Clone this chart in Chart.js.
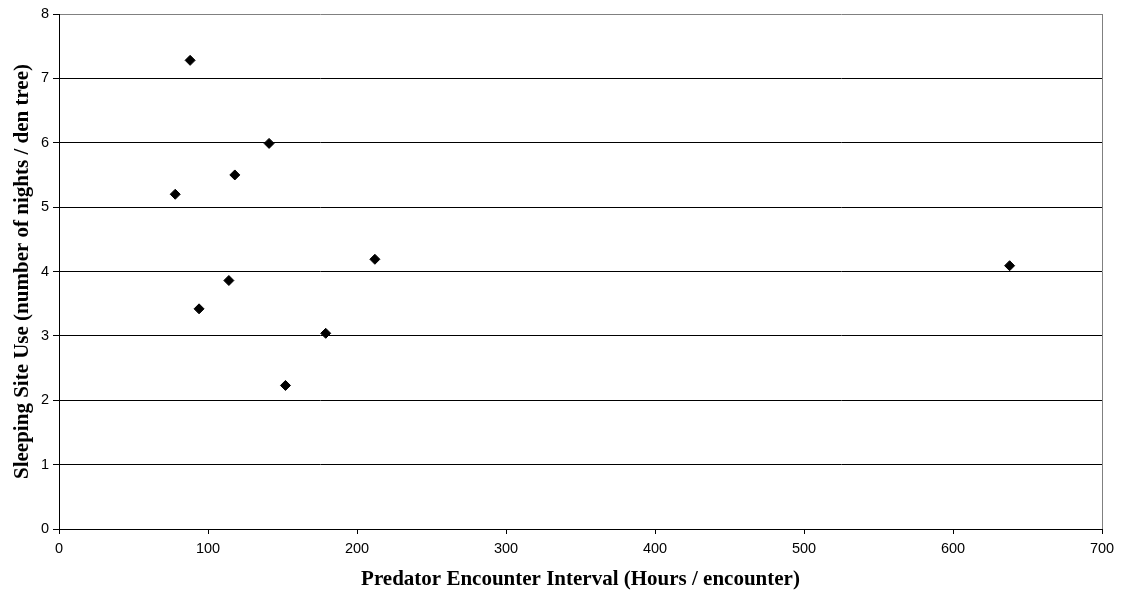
<!DOCTYPE html>
<html>
<head>
<meta charset="utf-8">
<script src="https://cdn.jsdelivr.net/npm/chart.js@4/dist/chart.umd.min.js"></script>
<style>
html,body{margin:0;padding:0;background:#fff;}
#wrap{width:1125px;height:592px;position:relative;}
</style>
</head>
<body>
<div id="wrap"><canvas id="c" width="1125" height="592"></canvas></div>
<script>
const encounterInterval = [78, 88, 94, 114, 118, 141, 152, 179, 212, 638];
const sleepingSiteUse = [5.20, 7.28, 3.42, 3.86, 5.50, 5.99, 2.23, 3.04, 4.19, 4.09];
const xTitle = 'Predator Encounter Interval (Hours / encounter)';
const yTitle = 'Sleeping Site Use (number of nights / den tree)';

const points = encounterInterval.map((x, i) => ({x: x, y: sleepingSiteUse[i]}));

new Chart(document.getElementById('c'), {
  type: 'scatter',
  data: {
    datasets: [{
      data: points,
      pointStyle: 'rectRot',
      radius: 5,
      hoverRadius: 5,
      backgroundColor: '#000',
      borderColor: '#000',
      borderWidth: 1
    }]
  },
  options: {
    responsive: false,
    animation: false,
    events: [],
    layout: {padding: {top: 14, right: 23, left: 0, bottom: 0}},
    plugins: {legend: {display: false}, tooltip: {enabled: false}},
    scales: {
      x: {
        type: 'linear', min: 0, max: 700,
        ticks: {stepSize: 100, color: '#000', font: {family: 'Liberation Sans', size: 14.5}, padding: 6},
        grid: {
          color: ctx => ctx.tick && ctx.tick.value === 700 ? '#808080' : 'rgba(0,0,0,0)',
          tickColor: '#000', tickLength: 5, lineWidth: 1
        },
        border: {color: '#000', width: 1},
        title: {display: true, text: xTitle, color: '#000', font: {family: 'Liberation Serif', size: 21, weight: 'bold'}, padding: {top: 4, bottom: 0}},
        afterFit: s => { s.height = 63; }
      },
      y: {
        type: 'linear', min: 0, max: 8,
        ticks: {stepSize: 1, color: '#000', font: {family: 'Liberation Sans', size: 14.5}, padding: 4},
        grid: {
          color: ctx => ctx.tick && ctx.tick.value === 8 ? '#808080' : '#000',
          tickColor: '#000', tickLength: 6, lineWidth: 1
        },
        border: {color: '#000', width: 1},
        title: {display: true, text: yTitle, color: '#000', font: {family: 'Liberation Serif', size: 21, weight: 'bold'}, padding: {top: 10, bottom: 4}},
        afterFit: s => { s.width = 59; }
      }
    }
  }
});
</script>
</body>
</html>
